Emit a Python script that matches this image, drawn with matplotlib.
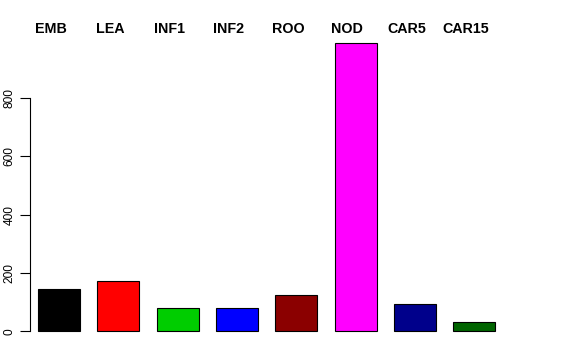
import matplotlib
matplotlib.use("Agg")
import matplotlib.pyplot as plt
import matplotlib.transforms as mtransforms

plt.rcParams['font.family'] = ['Liberation Sans', 'DejaVu Sans']

# tissue samples and counts
tissues = ['EMB', 'LEA', 'INF1', 'INF2', 'ROO', 'NOD', 'CAR5', 'CAR15']
counts = [144, 172, 82, 79, 124, 990, 93, 31]
colours = ['black', 'red', '#00CD00', 'blue', '#8B0000', 'magenta', '#00008B', '#006400']

fig = plt.figure(figsize=(5.76, 3.6), dpi=100)
ax = fig.add_axes([30 / 576, 17 / 360, 516 / 576, 312 / 360])

x = list(range(len(tissues)))
ax.bar(x, counts, width=0.71, color=colours, edgecolor='black', linewidth=0.8)

ax.set_xlim(-0.49, 8.21)
ax.set_ylim(-39.6, 1029.6)

for s in ['top', 'right', 'bottom']:
    ax.spines[s].set_visible(False)
ax.spines['left'].set_bounds(0, 800)
ax.spines['left'].set_linewidth(0.8)
ax.set_xticks([])
ax.set_yticks([0, 200, 400, 600, 800])
ax.tick_params(axis='y', direction='out', length=7, width=0.8, pad=3.5, labelsize=8.6)
for lab in ax.get_yticklabels():
    lab.set_rotation(90)
    lab.set_va('center')

# sample names above the bars
trans = mtransforms.blended_transform_factory(ax.transData, fig.transFigure)
for xi, name in zip(x, tissues):
    ax.text(xi - 0.14, 1 - 29 / 360, name, transform=trans, ha='center', va='center',
            fontsize=10.3, fontweight='bold', clip_on=False)

fig.savefig('out.png', dpi=100)
